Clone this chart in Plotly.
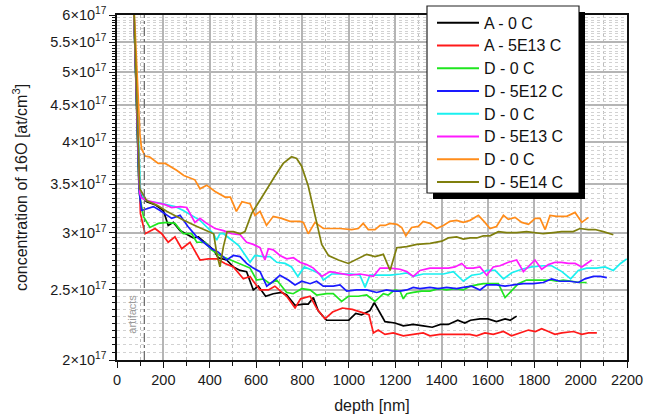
import math
import plotly.graph_objects as go

# ---------------- data (concentration in units of 1e17 at/cm^3) ----------------
SCALE = 1e17

depth_A0 = [70, 95, 108, 128, 164, 200, 221, 243, 272, 301, 329, 351, 387, 416, 437, 473, 502, 531, 559, 588,
            610, 641, 674, 710, 732, 768, 804, 825, 847, 868, 904, 947, 1000, 1030, 1055, 1091, 1110, 1156, 1199,
            1235, 1278, 1321, 1360, 1395, 1429, 1470, 1500, 1525, 1566, 1600, 1637, 1674, 1696, 1724]
conc_A0 = [6.5, 3.45, 3.36, 3.31, 3.28, 3.22, 3.07, 3.10, 3.02, 2.98, 2.95, 2.96, 2.89, 2.84, 2.77, 2.75, 2.69,
           2.66, 2.65, 2.50, 2.53, 2.45, 2.47, 2.48, 2.46, 2.38, 2.39, 2.39, 2.44, 2.34, 2.27, 2.27, 2.27, 2.32,
           2.31, 2.34, 2.40, 2.26, 2.25, 2.23, 2.24, 2.23, 2.22, 2.24, 2.24, 2.27, 2.25, 2.27, 2.28, 2.28, 2.26,
           2.28, 2.27, 2.30]

depth_A5E13 = [70, 101, 121, 144, 164, 193, 221, 250, 279, 315, 358, 394, 430, 466, 502, 545, 574, 588, 617, 653,
               681, 732, 768, 792, 833, 864, 897, 930, 972, 1015, 1048, 1087, 1106, 1127, 1156, 1192, 1235, 1278,
               1321, 1350, 1393, 1436, 1480, 1522, 1551, 1587, 1623, 1667, 1702, 1739, 1775, 1805, 1832, 1861,
               1889, 1919, 1969, 2005, 2034, 2070]
conc_A5E13 = [6.5, 3.19, 2.99, 3.02, 3.04, 2.99, 2.91, 2.96, 2.85, 2.91, 2.75, 2.76, 2.76, 2.72, 2.69, 2.59, 2.61,
              2.57, 2.50, 2.50, 2.53, 2.45, 2.36, 2.43, 2.45, 2.35, 2.28, 2.33, 2.36, 2.35, 2.33, 2.31, 2.18, 2.20,
              2.17, 2.18, 2.16, 2.17, 2.18, 2.16, 2.17, 2.17, 2.17, 2.17, 2.16, 2.18, 2.17, 2.19, 2.16, 2.18, 2.20,
              2.19, 2.21, 2.19, 2.17, 2.18, 2.19, 2.17, 2.18, 2.18]

depth_D0a = [70, 96, 114, 142, 178, 214, 250, 286, 322, 344, 380, 408, 444, 480, 516, 545, 574, 602, 631, 660,
             689, 732, 760, 797, 833, 861, 905, 933, 969, 998, 1041, 1077, 1113, 1149, 1170, 1199, 1221, 1235, 1250,
             1278, 1314, 1350, 1386, 1422, 1458, 1494, 1523, 1552, 1580, 1609, 1645, 1674, 1703, 1731, 1767, 1796,
             1825, 1868, 1897, 1925, 1961, 1997, 2026]
conc_D0a = [6.5, 3.40, 3.16, 3.05, 3.09, 3.10, 3.09, 2.99, 2.99, 2.91, 2.91, 2.84, 2.79, 2.76, 2.73, 2.71, 2.68,
            2.58, 2.59, 2.55, 2.58, 2.48, 2.47, 2.51, 2.50, 2.46, 2.47, 2.47, 2.41, 2.45, 2.45, 2.46, 2.41, 2.47,
            2.46, 2.50, 2.49, 2.43, 2.47, 2.48, 2.49, 2.49, 2.51, 2.50, 2.51, 2.50, 2.53, 2.54, 2.55, 2.55, 2.55,
            2.44, 2.50, 2.55, 2.58, 2.58, 2.58, 2.58, 2.57, 2.58, 2.57, 2.56, 2.56]

depth_D5E12 = [70, 96, 106, 128, 157, 186, 214, 236, 272, 306, 344, 372, 408, 437, 473, 502, 531, 559, 588, 617,
               646, 674, 703, 739, 768, 797, 833, 861, 890, 933, 962, 991, 1034, 1077, 1120, 1163, 1192, 1221,
               1250, 1278, 1307, 1350, 1386, 1422, 1465, 1494, 1530, 1566, 1595, 1637, 1674, 1710, 1753, 1796,
               1839, 1875, 1911, 1954, 1990, 2019, 2055, 2084, 2113]
conc_D5E12 = [6.5, 3.42, 3.22, 3.24, 3.26, 3.22, 3.17, 3.14, 3.17, 3.06, 2.96, 2.91, 2.85, 2.82, 2.75, 2.79, 2.78,
              2.72, 2.68, 2.65, 2.53, 2.57, 2.62, 2.58, 2.54, 2.57, 2.55, 2.57, 2.53, 2.53, 2.54, 2.49, 2.50, 2.50,
              2.48, 2.50, 2.49, 2.49, 2.50, 2.52, 2.51, 2.52, 2.51, 2.52, 2.51, 2.52, 2.53, 2.50, 2.54, 2.54, 2.53,
              2.54, 2.55, 2.55, 2.56, 2.59, 2.57, 2.57, 2.56, 2.59, 2.61, 2.61, 2.60]

depth_D0b = [70, 101, 115, 142, 178, 214, 250, 286, 322, 358, 394, 416, 430, 444, 460, 496, 525, 554, 574, 595,
             631, 660, 689, 725, 753, 780, 808, 845, 876, 890, 926, 969, 1012, 1048, 1070, 1091, 1134, 1178, 1221,
             1250, 1278, 1321, 1365, 1408, 1451, 1494, 1530, 1566, 1595, 1631, 1667, 1703, 1746, 1789, 1840, 1875,
             1919, 1957, 1990, 2026, 2069, 2105, 2141, 2172, 2199]
conc_D0b = [6.5, 3.44, 3.34, 3.31, 3.30, 3.28, 3.26, 3.22, 3.17, 3.12, 3.04, 2.99, 2.93, 2.99, 2.99, 2.93, 2.88,
            2.79, 2.73, 2.79, 2.78, 2.78, 2.73, 2.72, 2.69, 2.61, 2.69, 2.66, 2.63, 2.58, 2.63, 2.63, 2.63, 2.62,
            2.52, 2.62, 2.62, 2.62, 2.63, 2.64, 2.61, 2.63, 2.63, 2.63, 2.65, 2.57, 2.62, 2.63, 2.66, 2.66, 2.59,
            2.64, 2.67, 2.69, 2.70, 2.70, 2.65, 2.59, 2.66, 2.68, 2.68, 2.69, 2.66, 2.72, 2.76]

depth_D5E13 = [70, 98, 106, 135, 171, 207, 236, 272, 301, 336, 358, 387, 423, 459, 495, 531, 559, 588, 617, 638,
               653, 674, 703, 732, 761, 789, 818, 847, 883, 919, 948, 976, 1005, 1048, 1077, 1106, 1135, 1178,
               1221, 1250, 1278, 1307, 1350, 1393, 1429, 1458, 1487, 1508, 1537, 1566, 1595, 1623, 1652, 1688,
               1724, 1753, 1782, 1803, 1832, 1861, 1890, 1918, 1947, 1976, 2005, 2025, 2048]
conc_D5E13 = [6.5, 3.40, 3.35, 3.32, 3.30, 3.28, 3.25, 3.26, 3.25, 3.10, 3.14, 3.09, 3.04, 3.02, 2.99, 2.98, 2.91,
              2.89, 2.86, 2.75, 2.85, 2.84, 2.79, 2.76, 2.77, 2.73, 2.71, 2.68, 2.61, 2.65, 2.64, 2.63, 2.62, 2.63,
              2.62, 2.61, 2.68, 2.68, 2.67, 2.65, 2.61, 2.66, 2.68, 2.68, 2.68, 2.69, 2.72, 2.68, 2.68, 2.69, 2.62,
              2.69, 2.70, 2.73, 2.75, 2.65, 2.71, 2.75, 2.67, 2.71, 2.73, 2.73, 2.72, 2.72, 2.69, 2.72, 2.75]

depth_D0c = [70, 99, 106, 121, 140, 178, 208, 235, 257, 288, 315, 336, 358, 387, 423, 466, 489, 515, 539, 561,
             574, 595, 617, 645, 674, 710, 746, 789, 804, 825, 854, 890, 919, 962, 1012, 1041, 1062, 1084, 1113,
             1135, 1156, 1178, 1208, 1228, 1246, 1271, 1300, 1321, 1350, 1379, 1408, 1436, 1465, 1494, 1523, 1559,
             1587, 1609, 1637, 1667, 1688, 1717, 1746, 1775, 1804, 1825, 1847, 1868, 1897, 1940, 1976, 2005, 2034]
conc_D0c = [6.5, 4.10, 3.92, 3.83, 3.82, 3.74, 3.74, 3.70, 3.66, 3.60, 3.57, 3.55, 3.45, 3.49, 3.42, 3.36, 3.36,
            3.21, 3.31, 3.30, 3.29, 3.17, 3.21, 3.07, 3.16, 3.14, 3.11, 3.11, 3.10, 2.99, 3.10, 3.04, 3.04, 3.04,
            3.03, 3.04, 3.09, 3.03, 3.03, 3.07, 3.07, 3.09, 3.08, 3.05, 2.97, 3.05, 3.06, 3.11, 3.09, 3.04, 3.07,
            3.11, 3.12, 3.10, 3.12, 3.17, 3.10, 3.04, 3.06, 3.17, 3.13, 3.15, 3.10, 3.08, 3.14, 3.14, 3.03, 3.17,
            3.16, 3.16, 3.20, 3.10, 3.15]

depth_D5E14 = [70, 98, 129, 175, 216, 288, 345, 388, 417, 430, 444, 459, 475, 502, 532, 552, 581, 610, 653, 681,
               717, 753, 775, 796, 825, 854, 883, 912, 955, 998, 1041, 1077, 1113, 1149, 1178, 1207, 1250, 1293,
               1351, 1401, 1429, 1465, 1494, 1523, 1552, 1580, 1609, 1645, 1681, 1724, 1767, 1810, 1839, 1882,
               1918, 1968, 1997, 2033, 2062, 2098, 2141]
conc_D5E14 = [6.5, 3.45, 3.32, 3.27, 3.21, 3.12, 3.06, 3.02, 2.99, 2.81, 2.69, 2.87, 3.01, 3.01, 2.99, 3.01, 3.19,
              3.30, 3.48, 3.59, 3.74, 3.82, 3.80, 3.71, 3.48, 3.16, 2.89, 2.79, 2.75, 2.72, 2.76, 2.80, 2.78, 2.80,
              2.66, 2.86, 2.87, 2.89, 2.90, 2.92, 2.95, 2.96, 2.94, 2.95, 2.95, 2.97, 2.97, 3.01, 3.00, 3.00, 3.01,
              3.00, 2.99, 3.00, 3.01, 3.01, 3.04, 3.03, 3.03, 3.01, 2.98]

series_names = ["A - 0 C", "A - 5E13 C", "D - 0 C", "D - 5E12 C", "D - 0 C", "D - 5E13 C", "D - 0 C", "D - 5E14 C"]
series_depths = [depth_A0, depth_A5E13, depth_D0a, depth_D5E12, depth_D0b, depth_D5E13, depth_D0c, depth_D5E14]
series_concs = [conc_A0, conc_A5E13, conc_D0a, conc_D5E12, conc_D0b, conc_D5E13, conc_D0c, conc_D5E14]
series_colors = ["#000000", "#ff1a1a", "#1fe61f", "#1a1aff", "#1af0f0", "#ff1aff", "#ff8c1a", "#7f7f0d"]

x_ticks = list(range(0, 2201, 200))
x_minor_ticks = list(range(100, 2200, 200))
y_major = [2.0, 2.5, 3.0, 3.5, 4.0, 4.5, 5.0, 5.5, 6.0]
y_major_labels = [str(int(v)) if v == int(v) else str(v) for v in y_major]
y_minor = [round(2.0 + 0.05 * i, 2) for i in range(81) if (i % 10) != 0]

artifact_depth = 118

# ---------------- layout geometry (pixels) ----------------
W, H = 645, 417
ML, MR, MT, MB = 117, 18, 15, 57
PW, PH = W - ML - MR, H - MT - MB


def to_px(x):  # pixel x -> paper x
    return (x - ML) / PW


def to_py(y):  # pixel y (from top) -> paper y
    return (H - MB - y) / PH


# ---------------- figure ----------------
fig = go.Figure()
for name, xs, ys, col in zip(series_names, series_depths, series_concs, series_colors):
    fig.add_trace(go.Scatter(x=xs, y=[v * SCALE for v in ys], mode="lines", name=name,
                             line=dict(color=col, width=1.7), showlegend=False))

FONT = 'Arial, "Liberation Sans", Helvetica, sans-serif'

# ---------------- legend box geometry (Origin style, with drop shadow) ----------------
LEG_L, LEG_R, LEG_T, LEG_B = 427, 579, 6, 193
SHADOW = 6
ROW0, ROW_STEP = 22.7, 22.75

shapes = []
# artifact marker line
shapes.append(dict(type="line", xref="x", yref="paper", x0=artifact_depth, x1=artifact_depth, y0=0, y1=1,
                   line=dict(color="#707070", width=1.3, dash="dashdot"), layer="above"))
# legend box
shapes.append(dict(type="rect", xref="paper", yref="paper",
                   x0=to_px(LEG_L), x1=to_px(LEG_R), y0=to_py(LEG_B), y1=to_py(LEG_T),
                   fillcolor="white", line=dict(color="#222", width=1.2), layer="above"))
# drop shadow drawn as two thick strokes along the right and bottom edges
half = SHADOW / 2
shapes.append(dict(type="line", xref="paper", yref="paper",
                   x0=to_px(LEG_R + half), x1=to_px(LEG_R + half),
                   y0=to_py(LEG_T + SHADOW), y1=to_py(LEG_B + SHADOW),
                   line=dict(color="#000000", width=SHADOW), layer="above"))
shapes.append(dict(type="line", xref="paper", yref="paper",
                   x0=to_px(LEG_L + SHADOW), x1=to_px(LEG_R + SHADOW),
                   y0=to_py(LEG_B + half), y1=to_py(LEG_B + half),
                   line=dict(color="#000000", width=SHADOW), layer="above"))

annotations = [dict(text="artifacts", xref="x", yref="paper", x=66, y=0.07, textangle=-90,
                    showarrow=False, font=dict(size=11, color="#9a9a9a"))]
# shadow strips also as black annotation boxes (right and bottom)
annotations.append(dict(text=" ", xref="paper", yref="paper", x=to_px(LEG_R), y=to_py(LEG_T + SHADOW),
                        xanchor="left", yanchor="top", width=SHADOW, height=LEG_B - LEG_T,
                        bgcolor="#000000", borderpad=0, borderwidth=0, showarrow=False,
                        font=dict(size=1, color="#000000")))
annotations.append(dict(text=" ", xref="paper", yref="paper", x=to_px(LEG_L + SHADOW), y=to_py(LEG_B),
                        xanchor="left", yanchor="top", width=LEG_R - LEG_L, height=SHADOW,
                        bgcolor="#000000", borderpad=0, borderwidth=0, showarrow=False,
                        font=dict(size=1, color="#000000")))
for i, (name, col) in enumerate(zip(series_names, series_colors)):
    yc = ROW0 + ROW_STEP * i
    shapes.append(dict(type="line", xref="paper", yref="paper", x0=to_px(437), x1=to_px(479),
                       y0=to_py(yc), y1=to_py(yc), line=dict(color=col, width=2), layer="above"))
    annotations.append(dict(text=name, xref="paper", yref="paper", x=to_px(482), y=to_py(yc + 0.5),
                            xanchor="left", yanchor="middle", showarrow=False,
                            font=dict(family=FONT, size=16, color="#111")))

fig.update_layout(
    width=W, height=H,
    margin=dict(l=ML, r=MR, t=MT, b=MB, autoexpand=False),
    paper_bgcolor="white", plot_bgcolor="white",
    font=dict(family=FONT, size=14, color="#1a1a1a"),
    showlegend=False,
    shapes=shapes,
    annotations=annotations,
    xaxis=dict(range=[0, 2200], tickmode="array", tickvals=x_ticks, ticks="outside", ticklen=6,
               tickwidth=1.3, tickcolor="#111", showline=True, linecolor="#111", linewidth=1.6,
               mirror=True, showgrid=True, gridcolor="#b5b5b5", gridwidth=1.6, zeroline=False,
               tickfont=dict(size=14.5), automargin=False,
               minor=dict(tickvals=x_minor_ticks, ticks="outside", ticklen=4, tickcolor="#111",
                          tickwidth=1.2, showgrid=True, gridcolor="#bdbdbd", griddash="dot", gridwidth=1),
               title=dict(text="depth [nm]", font=dict(size=16), standoff=13)),
    yaxis=dict(type="log", range=[math.log10(2e17), math.log10(6e17)], tickmode="array",
               tickvals=[v * SCALE for v in y_major],
               ticktext=[f"{lab}×10<sup>17</sup>" for lab in y_major_labels],
               ticks="outside", ticklen=6, tickwidth=1.3, tickcolor="#111",
               showline=True, linecolor="#111", linewidth=1.6, mirror=True,
               showgrid=True, gridcolor="#b5b5b5", gridwidth=1.6, zeroline=False,
               tickfont=dict(size=14.5), automargin=False,
               minor=dict(tickvals=[v * SCALE for v in y_minor], ticks="outside", ticklen=3,
                          tickcolor="#111", tickwidth=1, showgrid=True, gridcolor="#d2d2d2",
                          griddash="dot", gridwidth=1),
               title=dict(text="concentration of 16O [at/cm<sup>3</sup>]", font=dict(size=16), standoff=19)),
)

fig.write_html("out.html")
